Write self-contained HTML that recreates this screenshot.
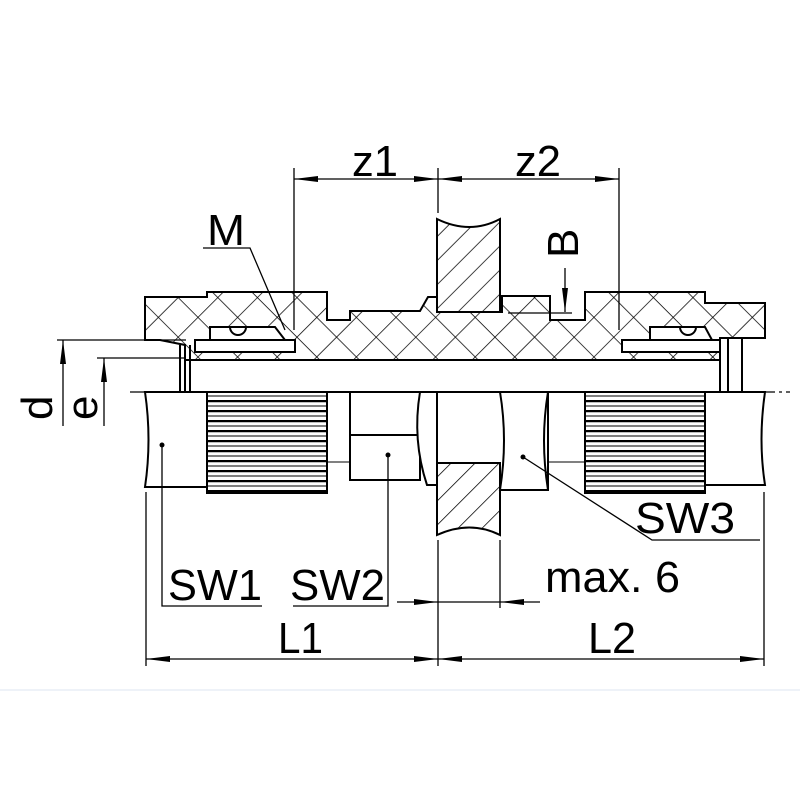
<!DOCTYPE html>
<html><head><meta charset="utf-8"><style>html,body{margin:0;padding:0;background:#fff}svg{display:block}text{font-family:"Liberation Sans",sans-serif;fill:#000}</style></head>
<body>
<svg width="800" height="800" viewBox="0 0 800 800" xmlns="http://www.w3.org/2000/svg">
<defs>
<pattern id="x" width="28" height="28" patternUnits="userSpaceOnUse" patternTransform="rotate(45)">
<rect width="28" height="28" fill="#fff"/>
<line x1="0" y1="0" x2="0" y2="28" stroke="#000" stroke-width="1.5"/>
<line x1="0" y1="0" x2="28" y2="0" stroke="#000" stroke-width="1.5"/>
</pattern>
<pattern id="d" width="17" height="17" patternUnits="userSpaceOnUse" patternTransform="rotate(-45)">
<rect width="17" height="17" fill="#fff"/>
<line x1="0" y1="0" x2="17" y2="0" stroke="#000" stroke-width="1.5"/>
</pattern>
<pattern id="k" width="10" height="10" patternUnits="userSpaceOnUse">
<rect width="10" height="10" fill="#fff"/>
<line x1="0" y1="1" x2="10" y2="1" stroke="#000" stroke-width="2.5"/>
<line x1="0" y1="6" x2="10" y2="6" stroke="#000" stroke-width="1"/>
</pattern>
<marker id="a" markerWidth="24" markerHeight="8" refX="24" refY="4" orient="auto" markerUnits="userSpaceOnUse"><path d="M0,1 L24,4 L0,7 Z" fill="#000"/></marker>
</defs>
<g stroke="#000" stroke-width="2" fill="none">
<path d="M145,297 H207 V292 H327 V320 H350 V311 H420 L428,297 H437 V312 H502 V296 H550 V320 H585 V292 H705 V303 H765 V338 H720 V360 H185 V345 L160,340 H145 Z" fill="url(#x)"/>
<rect x="185" y="360" width="535" height="32" fill="#fff"/>
<path d="M195,340 H295 V352 H195 Z" fill="#fff"/>
<path d="M210,327 H275 L285,340 H210 Z" fill="#fff"/>
<path d="M230,327 a8,8 0 0 0 16,0" />
<path d="M622,340 H720 V352 H622 Z" fill="#fff"/>
<path d="M650,327 H705 L712,340 H650 Z" fill="#fff"/>
<path d="M680,327 a8,8 0 0 0 16,0" />
<line x1="180" y1="345" x2="180" y2="392"/>
<line x1="190" y1="345" x2="190" y2="392"/>
<line x1="728" y1="338" x2="728" y2="392"/>
<line x1="742" y1="338" x2="742" y2="392"/>
<path d="M437,219 Q470,235 500,219 V312 H437 Z" fill="url(#d)"/>
<path d="M437,463 H500 V535 Q470,520 437,535 Z" fill="url(#d)"/>
<path d="M145,392 H207 V487 H145 Q152,440 145,392 Z" fill="#fff"/>
<rect x="207" y="392" width="120" height="101" fill="url(#k)"/>
<path d="M350,392 H420 V480 H350 Z" fill="#fff"/>
<line x1="350" y1="435" x2="420" y2="435"/>
<path d="M420,392 Q412,440 427,485 H437 V392 Z" fill="#fff"/>
<path d="M500,392 H548 V490 H500 Q508,440 500,392 Z" fill="#fff"/>
<path d="M548,392 Q540,440 548,490" />
<rect x="585" y="392" width="120" height="101" fill="url(#k)"/>
<path d="M705,392 H765 Q758,440 765,485 H705 Z" fill="#fff"/>
<line x1="327" y1="462" x2="350" y2="462" stroke-width="1"/>
<line x1="548" y1="462" x2="585" y2="462" stroke-width="1"/>
</g>
<g stroke="#000" stroke-width="1.3" fill="none">
<line x1="130" y1="392" x2="790" y2="392" stroke-dasharray="30,4,3,4"/>
<line x1="294" y1="168" x2="294" y2="330"/>
<line x1="438" y1="168" x2="438" y2="213"/>
<line x1="619" y1="168" x2="619" y2="330"/>
<line x1="366" y1="179" x2="294" y2="179" marker-end="url(#a)"/>
<line x1="366" y1="179" x2="438" y2="179" marker-end="url(#a)"/>
<line x1="528" y1="179" x2="438" y2="179" marker-end="url(#a)"/>
<line x1="528" y1="179" x2="619" y2="179" marker-end="url(#a)"/>
<line x1="146" y1="492" x2="146" y2="666"/>
<line x1="764" y1="492" x2="764" y2="666"/>
<line x1="438" y1="540" x2="438" y2="666"/>
<line x1="290" y1="659" x2="146" y2="659" marker-end="url(#a)"/>
<line x1="290" y1="659" x2="438" y2="659" marker-end="url(#a)"/>
<line x1="600" y1="659" x2="438" y2="659" marker-end="url(#a)"/>
<line x1="600" y1="659" x2="764" y2="659" marker-end="url(#a)"/>
<line x1="500" y1="540" x2="500" y2="608"/>
<line x1="397" y1="602" x2="438" y2="602" marker-end="url(#a)"/>
<line x1="540" y1="602" x2="500" y2="602" marker-end="url(#a)"/>
<line x1="438" y1="602" x2="500" y2="602"/>
<line x1="57" y1="340" x2="186" y2="340"/>
<line x1="97" y1="358" x2="186" y2="358"/>
<line x1="63" y1="426" x2="63" y2="340" marker-end="url(#a)"/>
<line x1="104" y1="426" x2="104" y2="358" marker-end="url(#a)"/>
<line x1="565" y1="268" x2="565" y2="312" marker-end="url(#a)"/>
<line x1="508" y1="313" x2="572" y2="313"/>
<polyline points="203,248 250,248 285,330"/>
<polyline points="162,445 162,606 262,606"/>
<polyline points="388,455 388,606 293,606"/>
<polyline points="523,457 652,540 760,540"/>
</g>
<circle cx="162" cy="445" r="2.5"/><circle cx="388" cy="455" r="2.5"/><circle cx="523" cy="457" r="2.5"/>
<line x1="0" y1="690" x2="800" y2="690" stroke="#eef2f8" stroke-width="2"/>
<g font-size="44">
<text x="352" y="176" textLength="46" lengthAdjust="spacingAndGlyphs">z1</text>
<text x="515" y="176" textLength="46" lengthAdjust="spacingAndGlyphs">z2</text>
<text x="207" y="245" textLength="38" lengthAdjust="spacingAndGlyphs">M</text>
<text x="168" y="600" textLength="94" lengthAdjust="spacingAndGlyphs">SW1</text>
<text x="290" y="600" textLength="95" lengthAdjust="spacingAndGlyphs">SW2</text>
<text x="635" y="533" textLength="100" lengthAdjust="spacingAndGlyphs">SW3</text>
<text x="545" y="592" textLength="135" lengthAdjust="spacingAndGlyphs">max. 6</text>
<text x="278" y="653" textLength="45" lengthAdjust="spacingAndGlyphs">L1</text>
<text x="588" y="653" textLength="48" lengthAdjust="spacingAndGlyphs">L2</text>
<text transform="translate(578,258) rotate(-90)">B</text>
<text transform="translate(52,420) rotate(-90)">d</text>
<text transform="translate(97,420) rotate(-90)">e</text>
</g>
</svg>
</body></html>
